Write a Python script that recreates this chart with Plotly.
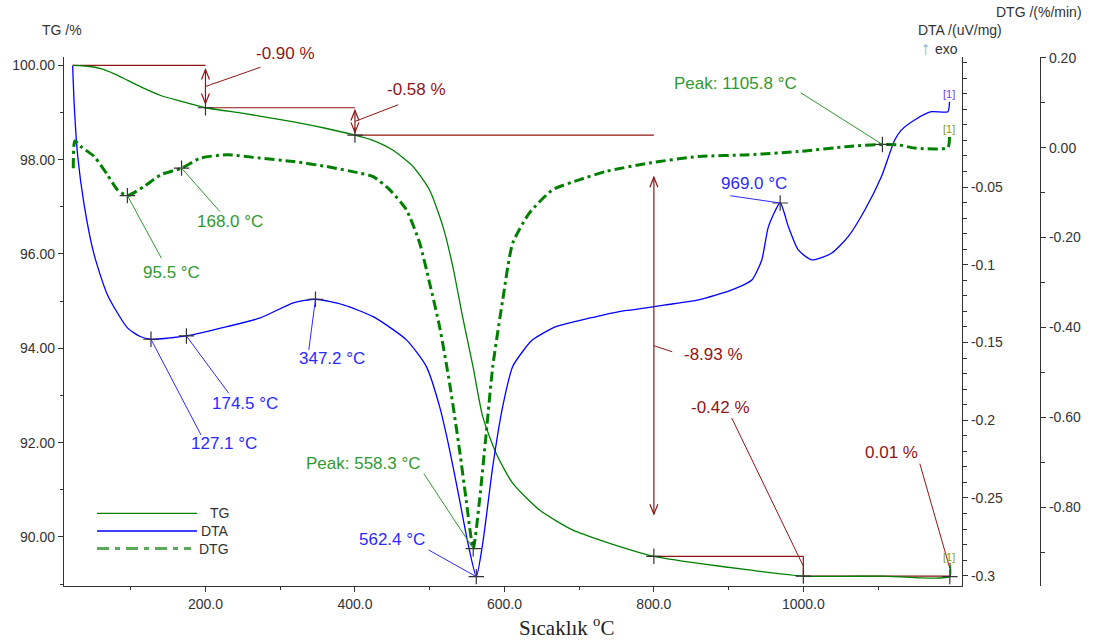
import plotly.graph_objects as go

# ---------------- data ----------------
tg_T = [23, 42, 60, 78, 96, 118, 140, 167, 200, 251, 318, 362, 400, 424, 451, 478, 500, 518,
        531, 544, 558, 571, 589, 611, 647, 691, 727, 762, 800, 860, 927, 1000, 1104, 1196, 1196]
tg_v = [100.00, 99.98, 99.93, 99.82, 99.68, 99.51, 99.36, 99.24, 99.10, 98.98, 98.80, 98.66,
        98.52, 98.41, 98.20, 97.85, 97.35, 96.57, 95.73, 94.67, 93.61, 92.55, 91.77, 91.14,
        90.57, 90.15, 89.94, 89.76, 89.59, 89.44, 89.30, 89.17, 89.17, 89.16, 89.45]

dta_T = [22.3, 24.4, 28.9, 37.7, 51.1, 68.9, 95.6, 112.0, 127.1, 150.0, 174.5, 228.9, 273.3,
         317.7, 347.2, 384.4, 424.4, 468.9, 495.6, 513.3, 526.7, 540.0, 551.1, 562.4, 571.1,
         584.4, 597.7, 611.1, 624.4, 637.7, 655.6, 668.9, 713.3, 753.3, 771.1, 815.6, 860.0,
         904.4, 931.1, 944.4, 953.3, 969.0, 980.0, 993.3, 1011.1, 1037.7, 1060.0, 1082.3,
         1104.4, 1122.3, 1131.1, 1148.9, 1171.1, 1193.3, 1195.6]
dta_v = [0.0278, 0.0027, -0.0294, -0.0616, -0.0937, -0.1194, -0.1406, -0.1460, -0.1479, -0.1472,
         -0.1458, -0.1398, -0.1342, -0.1245, -0.1222, -0.1258, -0.1334, -0.1483, -0.1655, -0.1912,
         -0.2190, -0.2512, -0.2788, -0.3006, -0.2788, -0.2298, -0.1912, -0.1655, -0.1558, -0.1483,
         -0.1430, -0.1398, -0.1344, -0.1301, -0.1290, -0.1258, -0.1226, -0.1162, -0.1098, -0.0969,
         -0.0755, -0.0603, -0.0755, -0.0905, -0.0969, -0.0926, -0.0819, -0.0648, -0.0434, -0.0198,
         -0.0134, -0.0069, -0.0016, -0.0016, 0.0048]

dtg_T = [23.1, 25.3, 33.3, 51.1, 68.9, 82.3, 95.5, 117.7, 140.0, 168.0, 193.3, 228.9, 273.3,
         317.7, 362.3, 406.7, 424.4, 446.7, 468.9, 486.7, 500.0, 513.3, 526.7, 540.0, 548.9,
         558.3, 566.7, 575.6, 584.4, 597.7, 611.1, 633.3, 664.4, 700.0, 735.6, 793.3, 860.0,
         926.7, 993.3, 1060.0, 1105.8, 1126.7, 1148.9, 1193.3, 1195.6]
dtg_v = [-0.0457, 0.0151, 0.0024, -0.0198, -0.0606, -0.0940, -0.1067, -0.0866, -0.0606, -0.0457,
         -0.0234, -0.0160, -0.0234, -0.0310, -0.0421, -0.0568, -0.0644, -0.0940, -0.1385, -0.2127,
         -0.3018, -0.3984, -0.5245, -0.6730, -0.7844, -0.8920, -0.7844, -0.6359, -0.4875, -0.3390,
         -0.2127, -0.1459, -0.0940, -0.0717, -0.0532, -0.0345, -0.0198, -0.0160, -0.0087, 0.0024,
         0.0070, 0.0062, -0.0011, 0.0002, 0.0247]

# peak / step points
dta_peak_T = [127.1, 174.5, 347.2, 562.4, 969.0]
dta_peak_v = [-0.1479, -0.1458, -0.1222, -0.3006, -0.0603]
dta_peak_lbl = ["127.1 °C", "174.5 °C", "347.2 °C", "562.4 °C", "969.0 °C"]

dtg_peak_T = [95.5, 168.0, 558.3, 1105.8]
dtg_peak_v = [-0.1067, -0.0457, -0.8920, 0.0070]
dtg_peak_lbl = ["95.5 °C", "168.0 °C", "Peak: 558.3 °C", "Peak: 1105.8 °C"]

tg_step_T = [22, 200, 400, 800, 1000, 1196]
tg_step_v = [100.00, 99.10, 98.52, 89.59, 89.17, 89.16]
tg_step_lbl = ["-0.90 %", "-0.58 %", "-8.93 %", "-0.42 %", "0.01 %"]

x_ticks = [200, 400, 600, 800, 1000]
tg_ticks = [90, 92, 94, 96, 98, 100]
dta_ticks = [-0.30, -0.25, -0.20, -0.15, -0.10, -0.05]
dta_tick_lbl = ["-0.3", "-0.25", "-0.2", "-0.15", "-0.1", "-0.05"]
dtg_ticks = [-0.8, -0.6, -0.4, -0.2, 0.0, 0.2]

# ---------------- style / layout (pixel offsets for labels) ----------------
W, H = 1094, 643
ML, MR, MT, MB = 64, 54, 57, 57
PW, PH = W - ML - MR, H - MT - MB
X_END = (962 - ML) / PW

def pxp(xp):
    return (xp - ML) / PW

def pyp(yp):
    return (H - MB - yp) / PH

GREEN = "#008000"
BLUE = "#0000ff"
GTXT = "#2f9a2f"
BTXT = "#2a2aff"
RED = "#8f1515"
AX = "#333333"
FONT = "Arial, 'Liberation Sans', sans-serif"

# (leader dx, dy, text dx, dy) in screen pixels (dy down)
dta_off = [(50, 95.7, 73.3, 104.4), (42.3, 57.3, 58.2, 67.3), (-6.7, 50.7, 16.6, 59.7),
           (-47.7, -26.7, -84, -37), (-50, -7.3, -25.8, -19.3)]
dtg_off = [(34, 62.6, 44.3, 77.3), (38.3, 43.4, 48.5, 53.4), (-49.4, -75, -109.9, -85),
           (-81.7, -51.7, -146.7, -61.3)]
step_off = [(0, 0, 55, -19.3, 80.3, -33), (0, 0, 43.3, -16.7, 62, -32), (0, 0, 18.4, 6.1, 60, 8.4),
            (0, 0, -71.6, -148.2, -83.3, -158.2), (0, -8, -30, -112.7, -57.9, -123.5)]

fig = go.Figure()

fig.add_trace(go.Scatter(x=dta_T, y=dta_v, yaxis="y2", mode="lines", line_shape="spline",
                         line=dict(color=BLUE, width=1.3, smoothing=0.6), showlegend=False,
                         hoverinfo="skip"))
fig.add_trace(go.Scatter(x=tg_T, y=tg_v, yaxis="y", mode="lines", line_shape="spline",
                         line=dict(color=GREEN, width=1.3, smoothing=0.6), showlegend=False,
                         hoverinfo="skip"))
fig.add_trace(go.Scatter(x=dtg_T, y=dtg_v, yaxis="y3", mode="lines", line_shape="spline",
                         line=dict(color=GREEN, width=3, dash="10px,4px,3px,4px", smoothing=0.6),
                         showlegend=False, hoverinfo="skip"))

cross = dict(symbol="cross-thin", size=11, color=AX, line=dict(width=1.2, color=AX))
fig.add_trace(go.Scatter(x=dta_peak_T, y=dta_peak_v, yaxis="y2", mode="markers", marker=cross,
                         showlegend=False, hoverinfo="skip"))
fig.add_trace(go.Scatter(x=dtg_peak_T, y=dtg_peak_v, yaxis="y3", mode="markers", marker=cross,
                         showlegend=False, hoverinfo="skip"))
fig.add_trace(go.Scatter(x=tg_step_T[1:], y=tg_step_v[1:], yaxis="y", mode="markers", marker=cross,
                         showlegend=False, hoverinfo="skip"))

shapes = []
ann = []

def leader(T, v, yref, lx0, ly0, lx1, ly1, color):
    shapes.append(dict(type="line", xref="x", yref=yref, xsizemode="pixel", ysizemode="pixel",
                       xanchor=T, yanchor=v, x0=lx0, y0=-ly0, x1=lx1, y1=-ly1,
                       line=dict(color=color, width=1)))

def label(T, v, yref, text, dx, dy, color):
    ann.append(dict(x=T, y=v, xref="x", yref=yref, text=text, showarrow=False,
                    xshift=dx, yshift=-dy, font=dict(family=FONT, size=17, color=color)))

def vhead(T, v, up):
    s = -1 if up else 1
    shapes.append(dict(type="path", xref="x", yref="y", xsizemode="pixel", ysizemode="pixel",
                       xanchor=T, yanchor=v, path=f"M-4,{s * 10} L0,0 L4,{s * 10}",
                       line=dict(color=RED, width=1.2)))

for T, v, t, o in zip(dta_peak_T, dta_peak_v, dta_peak_lbl, dta_off):
    leader(T, v, "y2", 0, 0, o[0], o[1], BTXT)
    label(T, v, "y2", t, o[2], o[3], BTXT)
for T, v, t, o in zip(dtg_peak_T, dtg_peak_v, dtg_peak_lbl, dtg_off):
    leader(T, v, "y3", 0, 0, o[0], o[1], GTXT)
    label(T, v, "y3", t, o[2], o[3], GTXT)

for i in range(len(tg_step_lbl)):
    Ta, Tb = tg_step_T[i], tg_step_T[i + 1]
    va, vb = tg_step_v[i], tg_step_v[i + 1]
    shapes.append(dict(type="line", xref="x", yref="y", x0=Ta, x1=Tb, y0=va, y1=va,
                       layer="below", line=dict(color=RED, width=1.2)))
    d = va - vb
    if d > 0.5:
        top, bot = va - 0.1 * d, vb + 0.1 * d
        shapes.append(dict(type="line", xref="x", yref="y", x0=Tb, x1=Tb, y0=top, y1=bot,
                           line=dict(color=RED, width=1.2)))
        vhead(Tb, top, True)
        vhead(Tb, bot, False)
    elif d > 0.1:
        shapes.append(dict(type="line", xref="x", yref="y", x0=Tb, x1=Tb, y0=va, y1=vb,
                           line=dict(color=RED, width=1.2)))
    mid = (va + vb) / 2
    o = step_off[i]
    leader(Tb, mid, "y", o[0], o[1], o[2], o[3], RED)
    label(Tb, mid, "y", tg_step_lbl[i], o[4], o[5], RED)

# curve end markers "[1]"
for T, v, yref, col, dy in [(dta_T[-1], dta_v[-1], "y2", "#7040f0", 8),
                            (dtg_T[-1], dtg_v[-1], "y3", "#8a9a10", 8),
                            (tg_T[-1], tg_v[-1], "y", "#8a9a10", 6)]:
    ann.append(dict(x=T, y=v, xref="x", yref=yref, text="[1]", showarrow=False, xshift=-1,
                    yshift=dy, font=dict(family=FONT, size=11, color=col)))

# legend (drawn)
leg = [("TG", 513.3, dict(color=GREEN, width=1.3)),
       ("DTA", 531.0, dict(color=BLUE, width=1.3)),
       ("DTG", 548.5, dict(color="#5aaa5a", width=3, dash="12px,6px,5px,6px"))]
for name, yp, ln in leg:
    shapes.append(dict(type="line", xref="paper", yref="paper", x0=pxp(97),
                       x1=pxp(197 if name != "DTG" else 191), y0=pyp(yp), y1=pyp(yp), line=ln))
    ann.append(dict(x=pxp(231), y=pyp(yp), xref="paper", yref="paper", text=name,
                    showarrow=False, xanchor="right", yanchor="middle",
                    font=dict(family=FONT, size=14, color=AX)))

# axis titles
titles = [("TG /%", 62, 30, 14, AX), ("DTA /(uV/mg)", 960, 30, 14, AX),
          ("DTG /(%/min)", 1038.6, 12, 14, AX), ("exo", 946.5, 49, 14, AX),
          ("↑", 926, 48, 19, "#8fb0d8")]
for t, xp, yp, s, c in titles:
    ann.append(dict(x=pxp(xp), y=pyp(yp), xref="paper", yref="paper", text=t, showarrow=False,
                    xanchor="center", yanchor="middle", font=dict(family=FONT, size=s, color=c)))
ann.append(dict(x=pxp(566), y=pyp(626), xref="paper", yref="paper",
                text="Sıcaklık <sup>o</sup>C", showarrow=False, xanchor="center", yanchor="middle",
                font=dict(family="'Liberation Serif', 'Times New Roman', serif", size=21, color="#222")))

axis_common = dict(showline=True, linecolor=AX, linewidth=1.3, ticks="outside", ticklen=5,
                   tickcolor=AX, tickwidth=1, showgrid=False, zeroline=False,
                   tickfont=dict(family=FONT, size=14, color=AX))

fig.update_layout(
    width=W, height=H, margin=dict(l=ML, r=MR, t=MT, b=MB, pad=0),
    paper_bgcolor="white", plot_bgcolor="white", showlegend=False,
    xaxis=dict(domain=[0, X_END], range=[10.7, 1212.3], tickmode="array", tickvals=x_ticks,
               ticktext=[f"{t:.1f}" for t in x_ticks], anchor="y",
               minor=dict(tickmode="array", tickvals=[100, 300, 500, 700, 900, 1100],
                          ticklen=3, ticks="outside", tickcolor=AX), **axis_common),
    yaxis=dict(range=[88.96, 100.176], side="left", anchor="x", tickmode="array",
               tickvals=tg_ticks, ticktext=[f"{t:.2f}" for t in tg_ticks],
               minor=dict(tickmode="array", tickvals=[89, 91, 93, 95, 97, 99],
                          ticklen=3, ticks="outside", tickcolor=AX), **axis_common),
    yaxis2=dict(range=[-0.3066, 0.0336], overlaying="y", side="right", anchor="x",
                tickmode="array", tickvals=dta_ticks, ticktext=dta_tick_lbl,
                minor=dict(tickmode="array", tickvals=[round(-0.30 + 0.01 * k, 2) for k in range(34)],
                           ticklen=4, ticks="outside", tickcolor=AX), **axis_common),
    yaxis3=dict(range=[-0.975, 0.2015], overlaying="y", side="right", anchor="free", position=1.0,
                tickmode="array", tickvals=dtg_ticks, ticktext=[f"{t:.2f}" for t in dtg_ticks],
                minor=dict(tickmode="array", tickvals=[-0.9, -0.7, -0.5, -0.3, -0.1, 0.1],
                           ticklen=4, ticks="outside", tickcolor=AX), **axis_common),
    shapes=shapes, annotations=ann,
)

fig.write_html("out.html")
